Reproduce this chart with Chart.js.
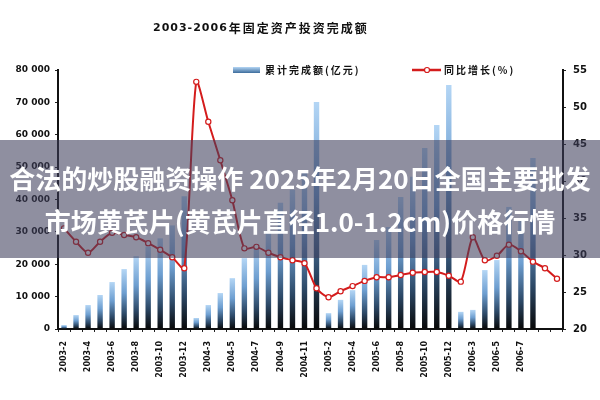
<!DOCTYPE html>
<html>
<head>
<meta charset="utf-8">
<script src="https://cdn.jsdelivr.net/npm/chart.js@4.4.0/dist/chart.umd.min.js"></script>
<style>
  html, body { margin: 0; padding: 0; background: #fff; }
  #wrap { position: relative; width: 600px; height: 400px; }
  #band {
    position: absolute; left: 0; top: 140px; width: 600px; height: 118px;
    background: rgba(62, 62, 92, 0.58);
    color: #fff; font-family: "Noto Sans CJK SC", sans-serif; font-weight: 700;
    font-size: 26px; line-height: 43px; text-align: center;
    display: flex; flex-direction: column; justify-content: center;
  }
</style>
</head>
<body>
<div id="wrap">
  <canvas id="c" width="600" height="400"></canvas>
  <div id="band">
    <div>合法的炒股融资操作 2025年2月20日全国主要批发</div>
    <div>市场黄芪片(黄芪片直径1.0-1.2cm)价格行情</div>
  </div>
</div>
<script>
// months shown: Feb..Dec each year (Jan+Feb reported together)
const months = [
  '2003-2', '2003-3', '2003-4', '2003-5', '2003-6', '2003-7', '2003-8', '2003-9', '2003-10', '2003-11', '2003-12',
  '2004-2', '2004-3', '2004-4', '2004-5', '2004-6', '2004-7', '2004-8', '2004-9', '2004-10', '2004-11', '2004-12',
  '2005-2', '2005-3', '2005-4', '2005-5', '2005-6', '2005-7', '2005-8', '2005-9', '2005-10', '2005-11', '2005-12',
  '2006-2', '2006-3', '2006-4', '2006-5', '2006-6', '2006-7', '2006-8', '2006-9', '2006-10',
];

// 累计完成额 (亿元)
const invest = [
  1200, 4300, 7400, 10500, 14500, 18500, 22500, 25500, 28000, 32000, 41000,
  3400, 7400, 11100, 15700, 21900, 26000, 29700, 39000, 43000, 49100, 70100,
  4900, 9000, 12000, 19800, 27500, 31500, 40800, 47000, 55900, 63000, 75400,
  5300, 5900, 18200, 21300, 37700, 33700, 52800, null, null,
];

// 同比增长 (%)
const growth = [
  33.6, 31.8, 30.3, 31.8, 33.0, 32.7, 32.4, 31.6, 30.7, 29.7, 28.2,
  53.4, 48.0, 42.8, 37.4, 30.9, 31.1, 30.3, 29.7, 29.3, 28.9,
  25.5, 24.3, 25.1, 25.8, 26.5, 27.0, 27.0, 27.3, 27.6, 27.7, 27.7,
  27.2, 26.4, 32.4, 29.3, 29.9, 31.4, 30.5, 29.1, 28.2, 26.8,
];

const leftTicks = [0, 10000, 20000, 30000, 40000, 50000, 60000, 70000, 80000];
const rightTicks = [20, 25, 30, 35, 40, 45, 50, 55];

const TITLE_NUM = '2003-2006';
const TITLE_TXT = '年固定资产投资完成额';
const RED = '#d41c1c';
const BOLD = '"DejaVu Sans", sans-serif';

function barFill(ctx) {
  const chart = ctx.chart;
  if (!chart.chartArea || ctx.raw == null) return '#6c9fd0';
  const y = chart.scales.y;
  const top = y.getPixelForValue(ctx.raw);
  const base = y.getPixelForValue(0);
  const g = chart.ctx.createLinearGradient(0, top, 0, base);
  g.addColorStop(0, '#b4d6f5');
  g.addColorStop(0.4, '#6d9ed0');
  g.addColorStop(0.75, '#2c4866');
  g.addColorStop(1, '#080808');
  return g;
}

const decor = {
  id: 'decor',
  afterDraw(chart) {
    const c = chart.ctx;
    c.save();
    c.fillStyle = '#111';
    c.textBaseline = 'middle';
    // title
    c.font = 'bold 11px ' + BOLD;
    c.letterSpacing = '1px';
    c.textAlign = 'left';
    c.fillText(TITLE_NUM, 153, 28);
    const w = c.measureText(TITLE_NUM).width;
    c.font = 'bold 12px "Noto Sans CJK SC"';
    c.letterSpacing = '2px';
    c.fillText(TITLE_TXT, 153 + w + 1, 28);

    // legend
    const ds = chart.data.datasets;
    const bar = ds.find(d => d.type === 'bar');
    const line = ds.find(d => d.type === 'line');
    const sw = c.createLinearGradient(0, 67, 0, 73);
    sw.addColorStop(0, '#b4d6f5');
    sw.addColorStop(1, '#3d6d9c');
    c.fillStyle = sw;
    c.fillRect(233, 67, 27, 6);
    c.fillStyle = '#111';
    c.font = 'bold 10px "Noto Sans CJK SC"';
    c.letterSpacing = '2px';
    c.fillText(bar.label, 265, 70);

    c.strokeStyle = RED;
    c.lineWidth = 2.5;
    c.beginPath();
    c.moveTo(412, 70);
    c.lineTo(441, 70);
    c.stroke();
    c.fillStyle = '#fff';
    c.lineWidth = 1.2;
    c.beginPath();
    c.arc(427, 70, 2.5, 0, Math.PI * 2);
    c.fill();
    c.stroke();
    c.fillStyle = '#111';
    c.fillText(line.label, 444, 70);
    c.restore();
  }
};

new Chart(document.getElementById('c'), {
  data: {
    labels: months,
    datasets: [
      {
        type: 'line',
        label: '同比增长(%)',
        data: growth,
        yAxisID: 'y1',
        order: 0,
        borderColor: RED,
        borderWidth: 2,
        tension: 0.25,
        pointRadius: 2.6,
        pointBorderWidth: 1.2,
        pointBackgroundColor: '#fff',
        pointBorderColor: RED,
      },
      {
        type: 'bar',
        label: '累计完成额(亿元)',
        data: invest,
        yAxisID: 'y',
        order: 1,
        backgroundColor: barFill,
        barPercentage: 0.45,
        categoryPercentage: 1,
      },
    ],
  },
  options: {
    responsive: false,
    animation: false,
    layout: { padding: { top: 70, left: 0, right: 0, bottom: 0 } },
    plugins: { legend: { display: false }, tooltip: { enabled: false } },
    scales: {
      x: {
        offset: true,
        afterFit(s) { s.height = 71; },
        grid: { display: true, drawOnChartArea: false, tickLength: 3, color: '#222' },
        border: { color: '#111', width: 2 },
        ticks: {
          autoSkip: false, minRotation: 90, maxRotation: 90, padding: 9,
          color: '#111', font: { family: BOLD, size: 8, weight: 'bold' },
          callback: (v, i) => (i % 2 === 0 && i <= 38 ? months[i] : ''),
        },
      },
      y: {
        position: 'left',
        min: leftTicks[0], max: leftTicks[leftTicks.length - 1],
        afterFit(s) { s.width = 58; },
        afterBuildTicks(s) { s.ticks = leftTicks.map(v => ({ value: v })); },
        grid: { display: true, drawOnChartArea: false, tickLength: 3, color: '#222' },
        border: { color: '#111', width: 2 },
        ticks: {
          color: '#111', padding: 5, font: { family: BOLD, size: 9, weight: 'bold' },
          callback: v => (v === 0 ? '0' : String(v / 1000) + ' 000'),
        },
      },
      y1: {
        position: 'right',
        min: rightTicks[0], max: rightTicks[rightTicks.length - 1],
        afterFit(s) { s.width = 37; },
        afterBuildTicks(s) { s.ticks = rightTicks.map(v => ({ value: v })); },
        grid: { display: true, drawOnChartArea: false, tickLength: 3, color: '#222' },
        border: { color: '#111', width: 2 },
        ticks: { color: '#111', padding: 7, font: { family: BOLD, size: 10, weight: 'bold' } },
      },
    },
  },
  plugins: [decor],
});
</script>
</body>
</html>
